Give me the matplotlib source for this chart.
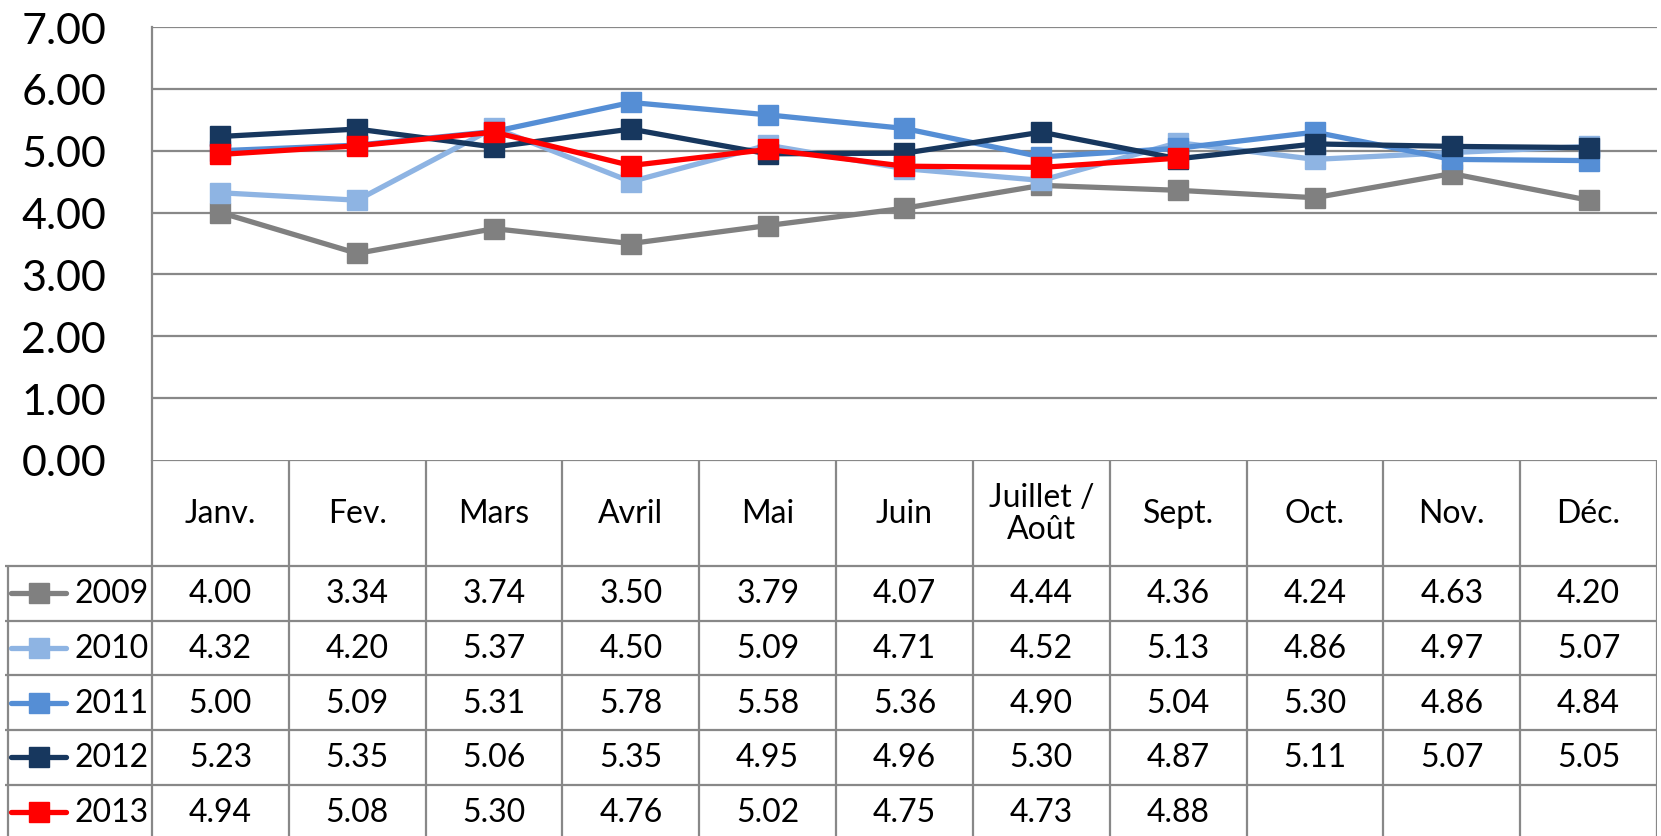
import matplotlib.pyplot as plt
from matplotlib.lines import Line2D

# --- data ---
months = ['Janv.', 'Fev.', 'Mars', 'Avril', 'Mai', 'Juin', 'Juillet /\nAoût',
          'Sept.', 'Oct.', 'Nov.', 'Déc.']
years = ['2009', '2010', '2011', '2012', '2013']
v2009 = [4.00, 3.34, 3.74, 3.50, 3.79, 4.07, 4.44, 4.36, 4.24, 4.63, 4.20]
v2010 = [4.32, 4.20, 5.37, 4.50, 5.09, 4.71, 4.52, 5.13, 4.86, 4.97, 5.07]
v2011 = [5.00, 5.09, 5.31, 5.78, 5.58, 5.36, 4.90, 5.04, 5.30, 4.86, 4.84]
v2012 = [5.23, 5.35, 5.06, 5.35, 4.95, 4.96, 5.30, 4.87, 5.11, 5.07, 5.05]
v2013 = [4.94, 5.08, 5.30, 4.76, 5.02, 4.75, 4.73, 4.88]
series = [v2009, v2010, v2011, v2012, v2013]
colors = ['#808080', '#8EB4E3', '#558ED5', '#17375E', '#FF0000']
yticks = [0, 1, 2, 3, 4, 5, 6, 7]

plt.rcParams['font.family'] = ['Lato', 'DejaVu Sans']
GRID = '#888888'
W, H = 1661, 837
FS = 23

fig = plt.figure(figsize=(W / 100, H / 100), dpi=100)

# pixel geometry of the Excel-like layout
px_left, px_right, px_top, px_zero = 152, 1657, 28, 461
ax = fig.add_axes([px_left / W, 1 - px_zero / H,
                   (px_right - px_left) / W, (px_zero - px_top) / H])
ax.set_xlim(-0.5, len(months) - 0.5)
ax.set_ylim(0, 7)
ax.set_yticks(yticks)
ax.set_yticklabels([f'{t:.2f}' for t in yticks], fontsize=31)
ax.tick_params(axis='y', length=0, pad=33)
ax.set_xticks([])
for s in ['top', 'right', 'bottom']:
    ax.spines[s].set_visible(False)
ax.spines['left'].set_color(GRID)
ax.spines['left'].set_linewidth(1.6)
for t in yticks[1:]:
    ax.axhline(t, color=GRID, lw=1.6, zorder=0)

for vals, c in zip(series, colors):
    ax.plot(range(len(vals)), vals, color=c, lw=3.8, marker='s',
            markersize=15, markeredgecolor=c, solid_joinstyle='round',
            clip_on=False)

# --- data table ---
col_w = (px_right - px_left) / len(months)
tab_left_px = 5
tab = fig.add_axes([tab_left_px / W, 0, (px_right - tab_left_px) / W,
                    (H - px_zero) / H])
xl = -0.5 - (px_left - tab_left_px) / col_w
row_h = 54.7
hdr = 106 / row_h
ybot = (H - px_zero) / row_h
tab.set_xlim(xl, len(months) - 0.5)
tab.set_ylim(ybot, 0)
tab.axis('off')

lw = 1.6
# vertical lines
for i in range(len(months) + 1):
    tab.vlines(i - 0.5, 0, ybot, color=GRID, lw=lw)
tab.vlines(xl + 0.02, hdr, ybot, color=GRID, lw=lw)
# horizontal lines
tab.hlines(0, -0.5, len(months) - 0.5, color=GRID, lw=lw)
for r in range(len(years)):
    tab.hlines(hdr + r, xl, len(months) - 0.5, color=GRID, lw=lw)

for i, m in enumerate(months):
    tab.text(i, hdr / 2, m, ha='center', va='center', fontsize=FS,
             linespacing=1.1)

for r, (y, vals, c) in enumerate(zip(years, series, colors)):
    yc = hdr + r + 0.5
    for i, v in enumerate(vals):
        tab.text(i, yc, f'{v:.2f}', ha='center', va='center', fontsize=FS)
    kx0 = xl + 6 / col_w
    kx1 = xl + 61 / col_w
    tab.add_line(Line2D([kx0, kx1], [yc, yc], color=c, lw=3.8,
                        solid_capstyle='round'))
    tab.plot([(kx0 + kx1) / 2], [yc], marker='s', markersize=14, color=c)
    tab.text(-0.5 - 3 / col_w, yc, y, ha='right', va='center', fontsize=FS)

fig.savefig('out.png', dpi=100)
